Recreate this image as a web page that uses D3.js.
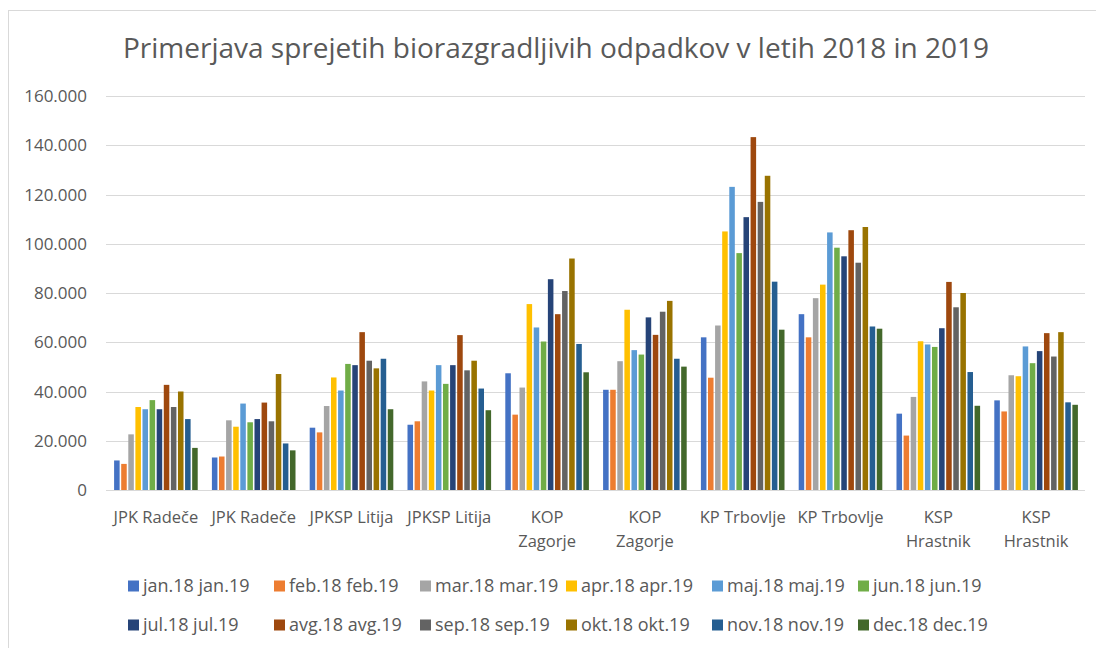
<!DOCTYPE html>
<html><head><meta charset="utf-8">
<script src="https://cdn.jsdelivr.net/npm/d3@7"></script>
<style>
html,body{margin:0;padding:0;background:#fff;}
svg text{font-family:"Open Sans", Lato, sans-serif;fill:#595959;}
</style></head>
<body><svg id="c" width="1096" height="648"></svg>
<script>
const categories = ["JPK Radeče","JPK Radeče","JPKSP Litija","JPKSP Litija","KOP\nZagorje","KOP\nZagorje","KP Trbovlje","KP Trbovlje","KSP\nHrastnik","KSP\nHrastnik"];
const seriesNames = ["jan.18 jan.19","feb.18 feb.19","mar.18 mar.19","apr.18 apr.19","maj.18 maj.19","jun.18 jun.19","jul.18 jul.19","avg.18 avg.19","sep.18 sep.19","okt.18 okt.19","nov.18 nov.19","dec.18 dec.19"];
const colors = ["#4472C4","#ED7D31","#A5A5A5","#FFC000","#5B9BD5","#70AD47","#264478","#9E480E","#636363","#997300","#255E91","#43682B"];
// values per category (12 months each)
const jan = [12000,13200,25300,26500,47400,40700,62000,71400,31000,36400];
const feb = [10600,13600,23400,27900,30600,40700,45600,62000,22100,31900];
const mar = [22600,28300,34100,44100,41600,52300,66800,77900,37800,46600];
const apr = [33700,25700,45700,40400,75500,73200,105000,83400,60400,46200];
const maj = [32800,35100,40400,50700,66000,56800,123100,104600,59100,58300];
const jun = [36500,27500,51200,43100,60300,55000,96200,98400,58100,51500];
const jul = [32800,28800,50700,50700,85600,70100,110800,94900,65700,56400];
const avg = [42700,35500,64100,62900,71400,63000,143300,105500,84500,63700];
const sep = [33700,27900,52500,48600,80800,72400,117000,92300,74200,54200];
const okt = [40000,47100,49400,52500,94000,76800,127600,106800,80000,64100];
const nov = [28800,18900,53300,41200,59300,53300,84600,66400,47900,35600];
const dec = [17100,16100,32800,32400,47800,50100,65100,65500,34200,34600];
const seriesValues = [jan,feb,mar,apr,maj,jun,jul,avg,sep,okt,nov,dec];
const yTicks = [0,20000,40000,60000,80000,100000,120000,140000,160000];
const title = "Primerjava sprejetih biorazgradljivih odpadkov v letih 2018 in 2019";

const svg = d3.select("#c");
// frame
svg.append("rect").attr("x",8.5).attr("y",10.5).attr("width",1100).attr("height",660)
  .attr("fill","none").attr("stroke","#d9d9d9").attr("stroke-width",1);

const pLeft = 107, pRight = 1085, pTop = 96, pBottom = 490;
const x0 = d3.scaleBand().domain(d3.range(categories.length)).range([pLeft,pRight]).padding(0);
const x1 = d3.scaleBand().domain(d3.range(seriesNames.length)).range([0,x0.bandwidth()]).paddingInner(0.22).paddingOuter(1.0);
const y = d3.scaleLinear().domain([0,160000]).range([pBottom,pTop]);
const loc = d3.formatLocale({decimal:",",thousands:".",grouping:[3],currency:["","€"]});
const fmt = loc.format(",");

// gridlines
svg.append("g").selectAll("line").data(yTicks).join("line")
  .attr("x1",pLeft-1).attr("x2",pRight).attr("y1",d=>Math.round(y(d))+0.5).attr("y2",d=>Math.round(y(d))+0.5)
  .attr("stroke","#d9d9d9").attr("stroke-width",1);

// y labels
svg.append("g").selectAll("text").data(yTicks).join("text")
  .attr("x",87).attr("y",d=>y(d)).attr("dy","0.36em").attr("text-anchor","end")
  .style("font-size","17px").text(d=>fmt(d));

// bars
const g = svg.append("g");
categories.forEach((c,ci)=>{
  seriesValues.forEach((arr,si)=>{
    g.append("rect")
      .attr("x",x0(ci)+x1(si)).attr("width",x1.bandwidth())
      .attr("y",y(arr[ci])).attr("height",y(0)-y(arr[ci]))
      .attr("fill",colors[si]);
  });
});

// category labels
const cl = svg.append("g").selectAll("text").data(categories).join("text")
  .attr("x",(d,i)=>x0(i)+x0.bandwidth()/2).attr("y",523).attr("text-anchor","middle")
  .style("font-size","16.5px");
cl.each(function(d){
  const lines = d.split("\n");
  const t = d3.select(this);
  lines.forEach((ln,li)=>{
    t.append("tspan").attr("x",t.attr("x")).attr("dy",li===0?0:24).text(ln);
  });
});

// title
svg.append("text").attr("x",556).attr("y",58).attr("text-anchor","middle")
  .style("font-size","28px").text(title);

// legend
const lg = svg.append("g");
seriesNames.forEach((n,i)=>{
  const col = i%6, row = Math.floor(i/6);
  const lx = 128 + col*146, ly = 586 + row*39;
  lg.append("rect").attr("x",lx).attr("y",ly-5.5).attr("width",11).attr("height",11).attr("fill",colors[i]);
  lg.append("text").attr("x",lx+15).attr("y",ly).attr("dy","0.36em").style("font-size","18px").text(n);
});
</script></body></html>
